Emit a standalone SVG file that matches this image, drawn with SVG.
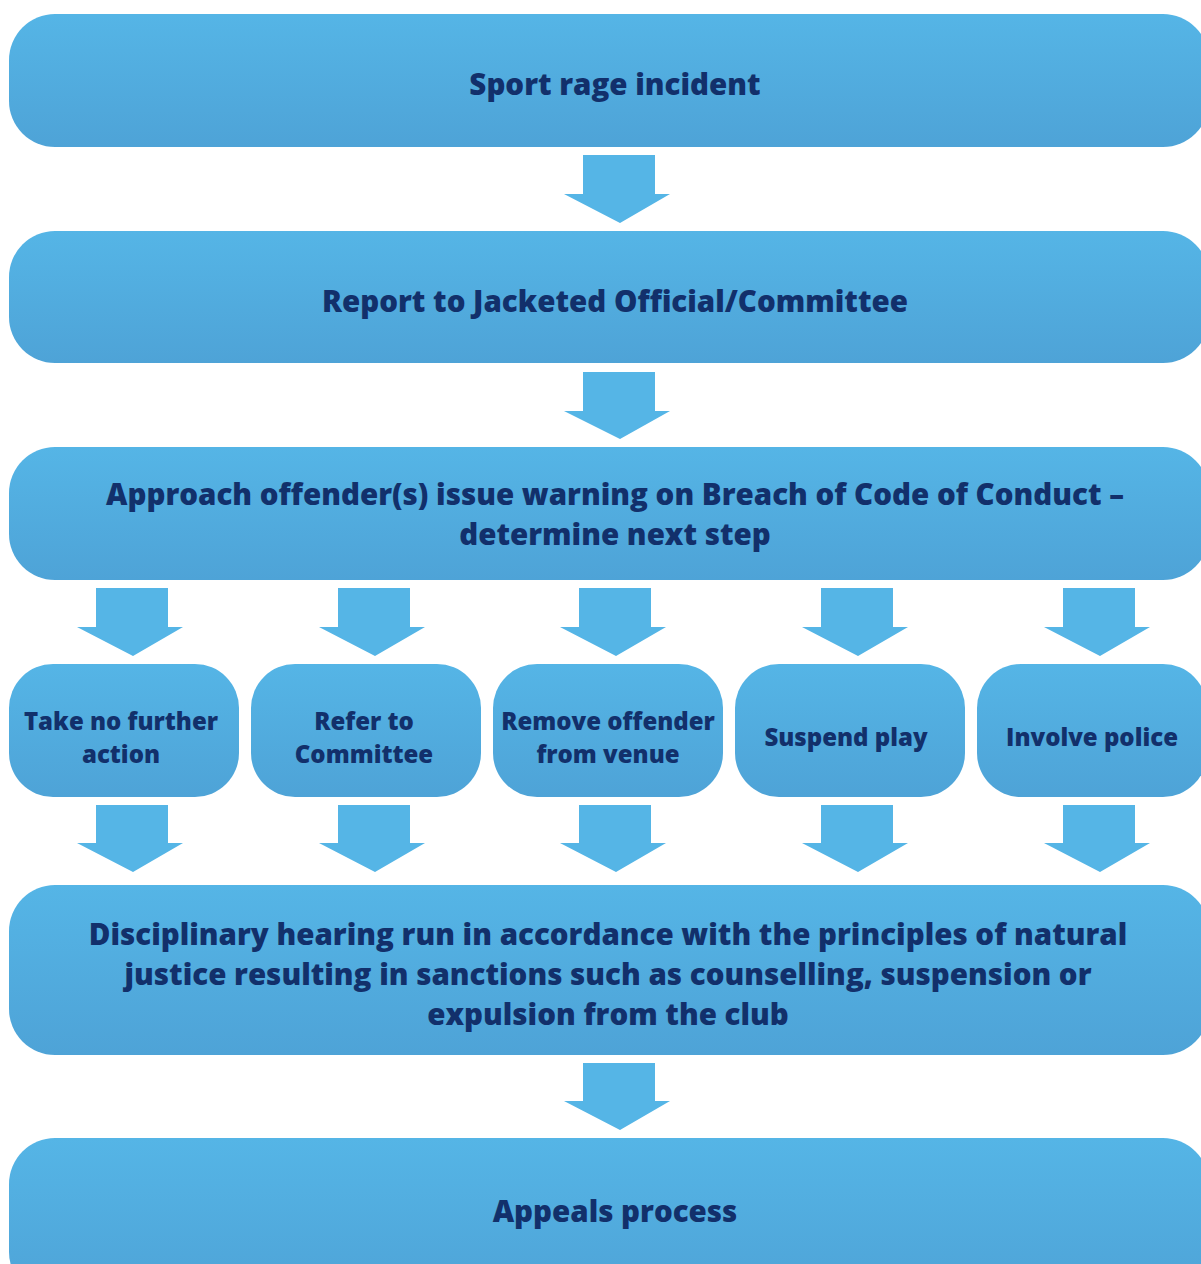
<svg xmlns="http://www.w3.org/2000/svg" width="1201" height="1264" viewBox="0 0 1201 1264">
<defs>
<linearGradient id="g" x1="0" y1="0" x2="0" y2="1">
<stop offset="0" stop-color="#55b5e6"/>
<stop offset="1" stop-color="#4ea3d7"/>
</linearGradient>
<style>
.box{fill:url(#g);}
.arr{fill:#55b5e6;}
.t{font-family:"Open Sans","Lato",sans-serif;font-weight:800;fill:#12306b;text-anchor:middle;}
.big{font-size:29.5px;}
.sm{font-size:24px;}
</style>
</defs>
<rect width="1201" height="1264" fill="#ffffff"/>
<g id="connectors">
<polygon class="arr" points="583,155 655,155 655,194 670,194 620,223 564,194 583,194"/>
<polygon class="arr" points="583,372 655,372 655,411 670,411 620,439 564,411 583,411"/>
<polygon class="arr" points="96,588 168,588 168,627 183,627 133,656 77,627 96,627"/>
<polygon class="arr" points="338,588 410,588 410,627 425,627 375,656 319,627 338,627"/>
<polygon class="arr" points="579,588 651,588 651,627 666,627 616,656 560,627 579,627"/>
<polygon class="arr" points="821,588 893,588 893,627 908,627 858,656 802,627 821,627"/>
<polygon class="arr" points="1063,588 1135,588 1135,627 1150,627 1100,656 1044,627 1063,627"/>
<polygon class="arr" points="96,805 168,805 168,843 183,843 133,872 77,843 96,843"/>
<polygon class="arr" points="338,805 410,805 410,843 425,843 375,872 319,843 338,843"/>
<polygon class="arr" points="579,805 651,805 651,843 666,843 616,872 560,843 579,843"/>
<polygon class="arr" points="821,805 893,805 893,843 908,843 858,872 802,843 821,843"/>
<polygon class="arr" points="1063,805 1135,805 1135,843 1150,843 1100,872 1044,843 1063,843"/>
<polygon class="arr" points="583,1063 655,1063 655,1101 670,1101 620,1130 564,1101 583,1101"/>
</g>
<g id="n1"><rect class="box" x="9" y="14" width="1200" height="133" rx="46"/><text class="t big" x="615" y="95">Sport rage incident</text></g>
<g id="n2"><rect class="box" x="9" y="231" width="1200" height="132" rx="46"/><text class="t big" x="615" y="312">Report to Jacketed Official/Committee</text></g>
<g id="n3"><rect class="box" x="9" y="447" width="1200" height="133" rx="46"/><text class="t big" x="615" y="505">Approach offender(s) issue warning on Breach of Code of Conduct –</text><text class="t big" x="615" y="545">determine next step</text></g>
<g id="n4"><rect class="box" x="9" y="664" width="230" height="133" rx="44"/><text class="t sm" x="121" y="730">Take no further</text><text class="t sm" x="121" y="763">action</text></g>
<g id="n5"><rect class="box" x="251" y="664" width="230" height="133" rx="44"/><text class="t sm" x="364" y="730">Refer to</text><text class="t sm" x="364" y="763">Committee</text></g>
<g id="n6"><rect class="box" x="493" y="664" width="230" height="133" rx="44"/><text class="t sm" x="608" y="730">Remove offender</text><text class="t sm" x="608" y="763">from venue</text></g>
<g id="n7"><rect class="box" x="735" y="664" width="230" height="133" rx="44"/><text class="t sm" x="846" y="746">Suspend play</text></g>
<g id="n8"><rect class="box" x="977" y="664" width="230" height="133" rx="44"/><text class="t sm" x="1092" y="746">Involve police</text></g>
<g id="n9"><rect class="box" x="9" y="885" width="1200" height="170" rx="46"/><text class="t big" x="608" y="945">Disciplinary hearing run in accordance with the principles of natural</text><text class="t big" x="608" y="985">justice resulting in sanctions such as counselling, suspension or</text><text class="t big" x="608" y="1025">expulsion from the club</text></g>
<g id="n10"><rect class="box" x="9" y="1138" width="1200" height="160" rx="46"/><text class="t big" x="615" y="1222">Appeals process</text></g>
</svg>
